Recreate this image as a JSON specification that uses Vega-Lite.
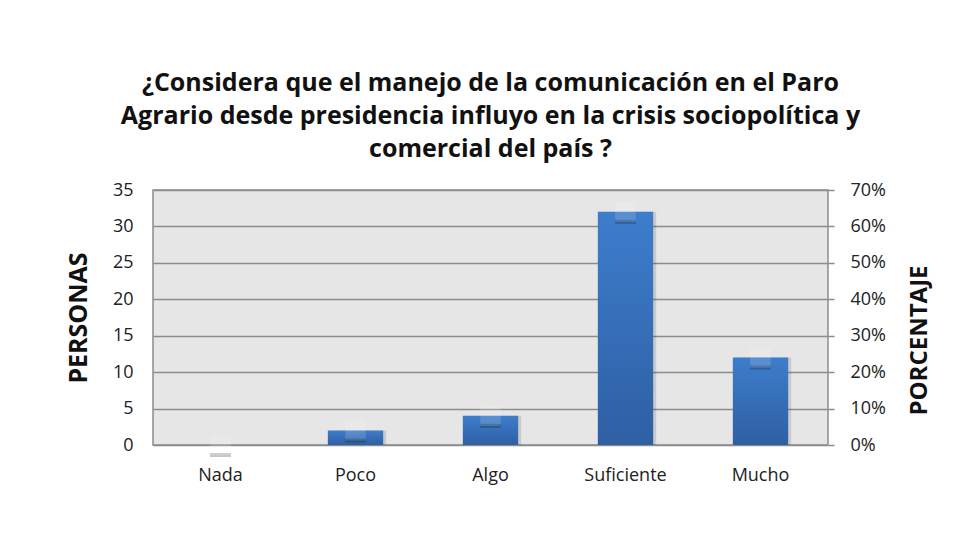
{
  "$schema": "https://vega.github.io/schema/vega-lite/v6.json",
  "width": 675,
  "height": 255,
  "autosize": {"type": "none"},
  "padding": {"left": 153, "top": 190, "right": 140, "bottom": 88},
  "background": "white",
  "title": {
    "text": ["¿Considera que el manejo de la comunicación en el Paro", "Agrario desde presidencia influyo en la crisis sociopolítica y", "comercial del país ?"],
    "font": "Open Sans",
    "fontSize": 25,
    "fontWeight": "bold",
    "color": "#111111",
    "lineHeight": 33,
    "anchor": "middle",
    "offset": 19
  },
  "config": {
    "view": {"fill": "#e6e6e6", "stroke": "#8c8c8c", "strokeWidth": 1.5},
    "axis": {"labelFont": "Open Sans", "titleFont": "Open Sans", "labelColor": "#222222", "titleColor": "#111111"}
  },
  "data": {
    "values": [
      {"cat": "Nada", "n": 0, "pct": 0},
      {"cat": "Poco", "n": 2, "pct": 0.04},
      {"cat": "Algo", "n": 4, "pct": 0.08},
      {"cat": "Suficiente", "n": 32, "pct": 0.64},
      {"cat": "Mucho", "n": 12, "pct": 0.24}
    ]
  },
  "encoding": {
    "x": {
      "field": "cat", "type": "nominal", "sort": null,
      "scale": {"paddingInner": 0.59, "paddingOuter": 0.295},
      "axis": {"title": null, "labelAngle": 0, "labelFontSize": 18, "labelPadding": 21, "ticks": false, "domain": false}
    }
  },
  "layer": [
    {
      "encoding": {
        "y": {
          "field": "n", "type": "quantitative",
          "scale": {"domain": [0, 35], "nice": false},
          "axis": {
            "title": "PERSONAS", "titleFontSize": 25, "titleFontWeight": "bold", "titlePadding": 21,
            "values": [0, 5, 10, 15, 20, 25, 30, 35], "labelFontSize": 18, "labelPadding": 20,
            "ticks": false, "domain": false, "grid": true, "gridColor": "#8c8c8c", "gridWidth": 1.5
          }
        }
      },
      "layer": [
        {"mark": {"type": "bar", "color": "#000000", "opacity": 0.12, "xOffset": 3}},
        {"mark": {"type": "bar", "color": {"gradient": "linear", "x1": 0, "y1": 0, "x2": 0, "y2": 1, "stops": [{"offset": 0, "color": "#3D7DCC"}, {"offset": 1, "color": "#2E5FA3"}]}}}
      ]
    },
    {
      "encoding": {
        "y": {
          "field": "pct", "type": "quantitative",
          "scale": {"domain": [0, 0.7], "nice": false},
          "axis": {
            "orient": "right", "title": "PORCENTAJE", "titleFontSize": 24, "titleFontWeight": "bold", "titlePadding": 22, "titleAngle": 270, "titleBaseline": "top", "titleY": 150, "titleAlign": "center",
            "values": [0, 0.1, 0.2, 0.3, 0.4, 0.5, 0.6, 0.7], "format": ".0%", "labelFontSize": 18, "labelPadding": 16,
            "ticks": true, "tickSize": 6, "tickColor": "#8c8c8c", "tickWidth": 1.5, "domain": false, "grid": false
          }
        }
      },
      "layer": [
        {"mark": {"type": "tick", "orient": "horizontal", "color": "#000000", "opacity": 0.22, "thickness": 4, "size": 21, "yOffset": 10, "clip": false}},
        {"mark": {"type": "point", "shape": "square", "size": 420, "filled": true, "color": "#ffffff", "opacity": 0.15, "clip": false}}
      ]
    }
  ],
  "resolve": {"scale": {"y": "independent"}}
}
